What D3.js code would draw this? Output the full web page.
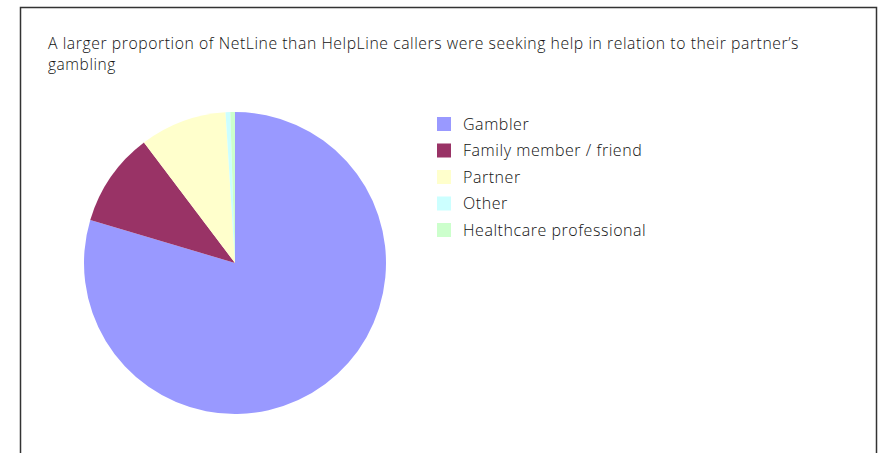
<!DOCTYPE html>
<html>
<head>
<meta charset="utf-8">
<script src="https://cdn.jsdelivr.net/npm/d3@7"></script>
<style>
  html, body { margin: 0; padding: 0; background: #fff; }
  svg { display: block; }
  text { font-family: "Open Sans", "Lato", sans-serif; font-weight: 300; fill: #111; letter-spacing: 0.55px; }
</style>
</head>
<body>
<svg id="chart" width="878" height="453"></svg>
<script>
// Who the callers were seeking help for (share of calls, %)
const categories = ["Gambler", "Family member / friend", "Partner", "Other", "Healthcare professional"];
const shares = [79.6, 10.1, 9.3, 0.5, 0.5];
const colours = ["#9999FF", "#993366", "#FFFFCC", "#CCFFFF", "#CCFFCC"];
const titleLines = [
  "A larger proportion of NetLine than HelpLine callers were seeking help in relation to their partner\u2019s",
  "gambling"
];

const svg = d3.select("#chart");

// chart frame (bottom edge runs off the page)
svg.append("rect")
  .attr("x", 20.5).attr("y", 7.5)
  .attr("width", 856).attr("height", 480)
  .attr("fill", "#fff")
  .attr("stroke", "#333").attr("stroke-width", 1.5);

// title
const title = svg.append("g");
titleLines.forEach((line, i) => {
  const t = title.append("text")
    .attr("x", 48).attr("y", 49 + i * 21)
    .style("font-size", "15.5px")
    .text(line);
  if (i === 0) t.attr("textLength", 751).attr("lengthAdjust", "spacingAndGlyphs");
});

// pie, starting at 12 o'clock and running clockwise
const cx = 235, cy = 263, radius = 151;
const pie = d3.pie().sort(null).value(d => d.value);
const arc = d3.arc().innerRadius(0).outerRadius(radius);
const colour = d3.scaleOrdinal().domain(categories).range(colours);
const data = categories.map((c, i) => ({ name: c, value: shares[i] }));

svg.append("g")
  .attr("transform", `translate(${cx},${cy})`)
  .selectAll("path")
  .data(pie(data))
  .join("path")
  .attr("d", arc)
  .attr("fill", d => colour(d.data.name));

// legend
const legend = svg.append("g").attr("transform", "translate(437,117)");
const rows = legend.selectAll("g")
  .data(categories)
  .join("g")
  .attr("transform", (d, i) => `translate(0,${i * 26.5})`);
rows.append("rect")
  .attr("width", 14).attr("height", 14)
  .attr("fill", d => colour(d));
rows.append("text")
  .attr("x", 26).attr("y", 12.5)
  .style("font-size", "16px")
  .text(d => d);
</script>
</body>
</html>
